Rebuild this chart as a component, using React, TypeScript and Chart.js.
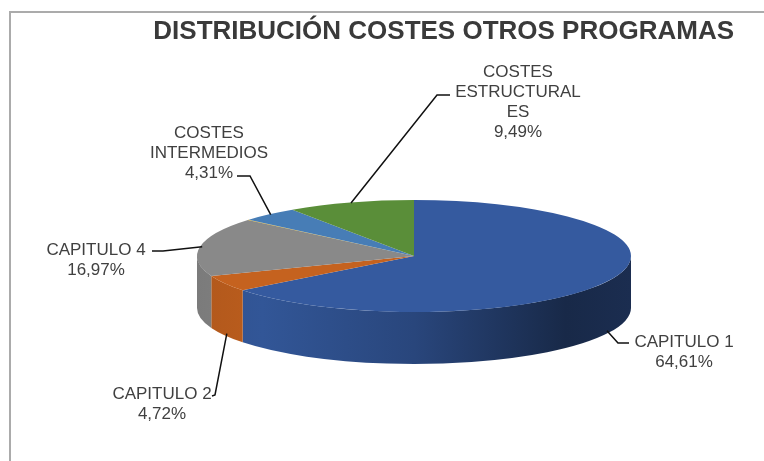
import React, { useEffect, useRef } from 'react';
import { Chart, registerables } from 'chart.js';

Chart.register(...registerables);

// ---- data ----
const TITLE = 'DISTRIBUCIÓN COSTES OTROS PROGRAMAS';
const CATEGORIES = ['CAPITULO 1', 'CAPITULO 2', 'CAPITULO 4', 'CAPITULO 6', 'COSTES INTERMEDIOS', 'COSTES ESTRUCTURALES'];
const VALUES = [64.61, 4.72, 16.97, 0.1, 4.31, 9.49];
const LABEL_LINES = [['CAPITULO 1'], ['CAPITULO 2'], ['CAPITULO 4'], [], ['COSTES', 'INTERMEDIOS'], ['COSTES', 'ESTRUCTURAL', 'ES']];
const COLORS = ['#355a9f', '#c5621f', '#898989', '#d4a300', '#477db6', '#5a8e39'];

// ---- layout / style ----
const PIE = { cy: 256, radius: 217, squash: 0.258, depth: 52 };
const SIDE_SHADE: [number, number][] = [[0, 0.9], [0.15, 0.95], [0.5, 0.78], [0.85, 0.45], [1, 0.5]];
const LABEL_LAYOUT: any[] = [
  { x: 684, y: 347, elbow: [618, 343], end: [629, 343] },
  { x: 162, y: 399, elbow: [215, 395], end: [212, 396] },
  { x: 96, y: 255, elbow: [163, 251], end: [152, 251] },
  null,
  { x: 209, y: 138, elbow: [250, 176], end: [237, 176] },
  { x: 518, y: 77, elbow: [437, 95], end: [450, 95] },
];
const FONT = '"Liberation Sans", Arial, sans-serif';
const TEXT_COLOR = '#404040';

function shade(hex: string, f: number) {
  const n = parseInt(hex.slice(1), 16);
  const r = Math.round(((n >> 16) & 255) * f);
  const g = Math.round(((n >> 8) & 255) * f);
  const b = Math.round((n & 255) * f);
  return `rgb(${r},${g},${b})`;
}

function fmtPct(v: number) {
  return v.toFixed(2).replace('.', ',') + '%';
}

const pie3d = {
  id: 'pie3d',
  beforeDatasetsDraw(chart: any) {
    const ctx = chart.ctx;
    const arcs = chart.getDatasetMeta(0).data;
    ctx.save();
    if (!arcs.length) return;
    const cx = arcs[0].x;
    const cy0 = arcs[0].y;
    const R = arcs[0].outerRadius;
    const ry = R * PIE.squash;
    const cy = PIE.cy;
    arcs.forEach((arc: any, i: number) => {
      const a = Math.max(arc.startAngle, 0);
      const b = Math.min(arc.endAngle, Math.PI);
      if (b <= a) return;
      const base = COLORS[i];
      const grad = ctx.createLinearGradient(cx - R, 0, cx + R, 0);
      SIDE_SHADE.forEach(([t, f]) => grad.addColorStop(t, shade(base, f)));
      ctx.beginPath();
      ctx.ellipse(cx, cy, R, ry, 0, a, b);
      ctx.ellipse(cx, cy + PIE.depth, R, ry, 0, b, a, true);
      ctx.closePath();
      ctx.fillStyle = grad;
      ctx.fill();
    });
    ctx.translate(cx, cy);
    ctx.scale(1, PIE.squash);
    ctx.translate(-cx, -cy0);
  },
  afterDatasetsDraw(chart: any) {
    chart.ctx.restore();
  },
};

const sliceLabels = {
  id: 'sliceLabels',
  afterDraw(chart: any) {
    const ctx = chart.ctx;
    const arcs = chart.getDatasetMeta(0).data;
    if (!arcs.length) return;
    const cx = arcs[0].x;
    const R = arcs[0].outerRadius;
    const ry = R * PIE.squash;
    ctx.save();
    arcs.forEach((arc: any, i: number) => {
      const lay = LABEL_LAYOUT[i];
      if (!lay) return;
      const mid = (arc.startAngle + arc.endAngle) / 2;
      const ax = cx + R * 0.99 * Math.cos(mid);
      let ay = PIE.cy + ry * 0.99 * Math.sin(mid);
      if (Math.sin(mid) > 0) ay += PIE.depth * 0.97;
      ctx.beginPath();
      ctx.moveTo(ax, ay);
      ctx.lineTo(lay.elbow[0], lay.elbow[1]);
      ctx.lineTo(lay.end[0], lay.end[1]);
      ctx.strokeStyle = '#111';
      ctx.lineWidth = 1.5;
      ctx.stroke();
      const lines = [...LABEL_LINES[i], fmtPct(VALUES[i])];
      ctx.font = `17px ${FONT}`;
      ctx.fillStyle = TEXT_COLOR;
      ctx.textAlign = 'center';
      ctx.textBaseline = 'alphabetic';
      lines.forEach((l, j) => ctx.fillText(l, lay.x, lay.y + j * 20));
    });
    ctx.restore();
  },
};

export default function App() {
  const ref = useRef<HTMLCanvasElement | null>(null);
  useEffect(() => {
    if (!ref.current) return;
    const chart = new Chart(ref.current, {
      type: 'pie',
      data: {
        labels: CATEGORIES,
        datasets: [
          {
            data: VALUES,
            backgroundColor: COLORS,
            borderWidth: 0,
            clip: false,
            radius: PIE.radius,
          } as any,
        ],
      },
      options: {
        responsive: false,
        animation: false,
        events: [],
        layout: { padding: { left: 94, right: 30, top: 0, bottom: 0 } },
        plugins: {
          legend: { display: false },
          tooltip: { enabled: false },
          title: {
            display: true,
            text: TITLE,
            align: 'end',
            color: '#3a3a3a',
            font: { family: FONT, size: 26, weight: 'bold' },
            padding: { top: 16, bottom: 10 },
          },
        },
      } as any,
      plugins: [pie3d, sliceLabels],
    });
    return () => chart.destroy();
  }, []);
  return (
    <div style={{ position: 'fixed', left: 0, top: 0, width: 764, height: 461, overflow: 'hidden', background: '#fff' }}>
      <div
        style={{
          position: 'absolute',
          left: 9,
          top: 11,
          width: 800,
          height: 500,
          borderLeft: '2px solid #ababab',
          borderTop: '2px solid #ababab',
        }}
      />
      <canvas ref={ref} width={764} height={461} style={{ position: 'absolute', left: 0, top: 0 }} />
    </div>
  );
}
